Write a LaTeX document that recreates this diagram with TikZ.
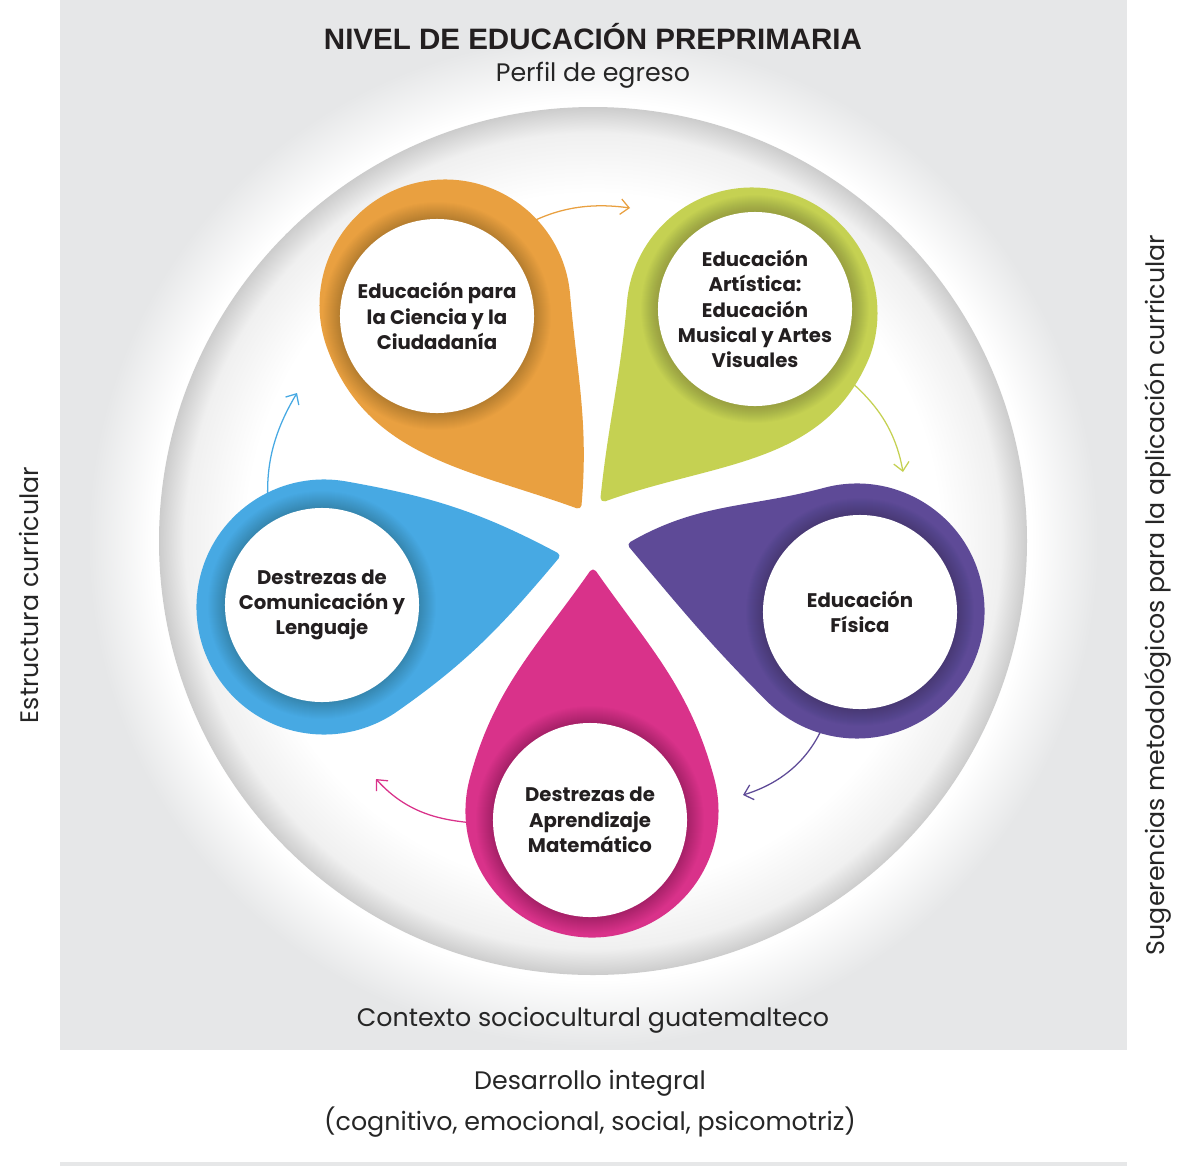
\documentclass[tikz,border=0pt]{standalone}
\usepackage{fontspec}
\setmainfont{Poppins}
\newfontfamily\headfont{Liberation Sans}
\usetikzlibrary{arrows.meta,calc,positioning}

\definecolor{bggray}{HTML}{E6E7E8}
\definecolor{inktext}{HTML}{231F20}
\definecolor{naranja}{HTML}{E9A040}
\definecolor{verde}{HTML}{C5D152}
\definecolor{morado}{HTML}{5E4A97}
\definecolor{rosa}{HTML}{D9328A}
\definecolor{azul}{HTML}{47A9E3}

\pgfdeclareradialshading{halo}{\pgfpoint{0bp}{0bp}}{color(0bp)=(white); color(21.7bp)=(white); color(25bp)=(bggray); color(50bp)=(bggray)}
\pgfdeclareradialshading{dish}{\pgfpoint{0bp}{0bp}}{color(0bp)=(white); color(20bp)=(white); color(23.5bp)=(black!6); color(25bp)=(black!20); color(50bp)=(black!20)}

\tikzset{
  every node/.style={
    text=inktext
  },
  petal/.style={
    fill=#1,
    draw=#1,
    line width=5pt,
    line join=round
  },
  hole/.style={
    shape=circle,
    fill=white,
    minimum size=4.85cm,
    inner sep=0pt,
    align=center,
    font=\bfseries\fontsize{14}{18}\selectfont
  },
  flow/.style={
    draw=#1,
    line width=0.9pt,
    shorten <=0.5cm,
    -{Straight Barb[length=6pt,width=11pt]}
  },
  caption/.style={
    font=\fontsize{18}{22}\selectfont,
    text=black!85
  }
}

\begin{document}
\begin{tikzpicture}[x=0.025cm, y=0.025cm]
  \useasboundingbox (0,0) rectangle (1184,-1166);
  \fill[white] (0,0) rectangle (1184,-1166);
  \fill[bggray] (60,0) rectangle (1127,-1050);
  \fill[bggray] (60,-1162) rectangle (1127,-1166);

  % disc
  \coordinate (mid) at (593,-541);
  \shade[shading=halo] (mid) circle (505);
  \shade[shading=dish] (mid) circle (434);

  % petals
  \coordinate (ciencia-tip) at (578,-505);
  \coordinate (ciencia-c) at (445,-305);
  \filldraw[petal=naranja] (ciencia-tip) to[out=85,in=-85] ($(ciencia-c)+(5:122)$)
    arc[start angle=5,end angle=200,radius=122] to[out=-70,in=160] (ciencia-tip) -- cycle;

  \coordinate (artistica-tip) at (604,-498);
  \coordinate (artistica-c) at (752,-313);
  \filldraw[petal=verde] (artistica-tip) to[out=84,in=-95] ($(artistica-c)+(175:122)$)
    arc[start angle=175,end angle=-20,radius=122] to[out=-112,in=20] (artistica-tip) -- cycle;

  \coordinate (fisica-tip) at (632,-545);
  \coordinate (fisica-c) at (857,-611);
  \filldraw[petal=morado] (fisica-tip) to[out=30,in=195] ($(fisica-c)+(105:124)$)
    arc[start angle=105,end angle=-135,radius=124] to[out=135,in=-50] (fisica-tip) -- cycle;

  \coordinate (mate-tip) at (593,-573);
  \coordinate (mate-c) at (592,-811);
  \filldraw[petal=rosa] (mate-tip) to[out=-125,in=75] ($(mate-c)+(165:123)$)
    arc[start angle=165,end angle=375,radius=123] to[out=105,in=-55] (mate-tip) -- cycle;

  \coordinate (lengua-tip) at (556,-556);
  \coordinate (lengua-c) at (324,-607);
  \filldraw[petal=azul] (lengua-tip) to[out=152,in=-10] ($(lengua-c)+(80:124)$)
    arc[start angle=80,end angle=305,radius=124] to[out=35,in=-130] (lengua-tip) -- cycle;

  % holes
  \coordinate (ciencia-h) at (437,-316);
  \coordinate (artistica-h) at (755,-309);
  \coordinate (fisica-h) at (860,-612);
  \coordinate (mate-h) at (590,-820);
  \coordinate (lengua-h) at (322,-605);
  \foreach \h in {ciencia-h,artistica-h,fisica-h,mate-h,lengua-h}
    \foreach \r in {98,...,114}
      \fill[black, opacity=.012] (\h) circle (\r);

  \node[hole] (ciencia) at (ciencia-h) {Educación para\\la Ciencia y la\\Ciudadanía};
  \node[hole] (artistica) at (artistica-h) {Educación\\Artística:\\Educación\\Musical y Artes\\Visuales};
  \node[hole] (fisica) at (fisica-h) {Educación\\Física};
  \node[hole] (mate) at (mate-h) {Destrezas de\\Aprendizaje\\Matemático};
  \node[hole] (lengua) at (lengua-h) {Destrezas de\\Comunicación y\\Lenguaje};

  % arrows
  \coordinate (ciencia-e) at (630,-208);
  \coordinate (artistica-e) at (903,-472);
  \coordinate (fisica-e) at (743,-795);
  \coordinate (mate-e) at (376,-779);
  \coordinate (lengua-e) at (297,-393);
  \draw[flow=naranja] (ciencia.51) to[out=30,in=172] (ciencia-e);
  \draw[flow=verde] (artistica.-36) to[out=-42,in=100] (artistica-e);
  \draw[flow=morado] (fisica.-107) to[out=-112,in=17] (fisica-e);
  \draw[flow=rosa] (mate.183) to[out=174,in=-48] (mate-e);
  \draw[flow=azul] (lengua.123) to[out=93,in=-121] (lengua-e);

  % captions
  \node[font=\headfont\bfseries\fontsize{21}{25}\selectfont] (titulo) at (593,-37) {NIVEL DE EDUCACIÓN PREPRIMARIA};
  \node[caption] (perfil) at (593,-75) {Perfil de egreso};
  \node[caption] (contexto) at (593,-1020) {Contexto sociocultural guatemalteco};
  \node[caption] (desarrollo) at (590,-1083) {Desarrollo integral};
  \node[caption] (areas) at (590,-1122) {(cognitivo, emocional, social, psicomotriz)};
  \node[caption, rotate=90] (estructura) at (29,-595) {Estructura curricular};
  \node[caption, rotate=90] (sugerencias) at (1158,-595) {Sugerencias metodológicos para la aplicación curricular};
\end{tikzpicture}
\end{document}
